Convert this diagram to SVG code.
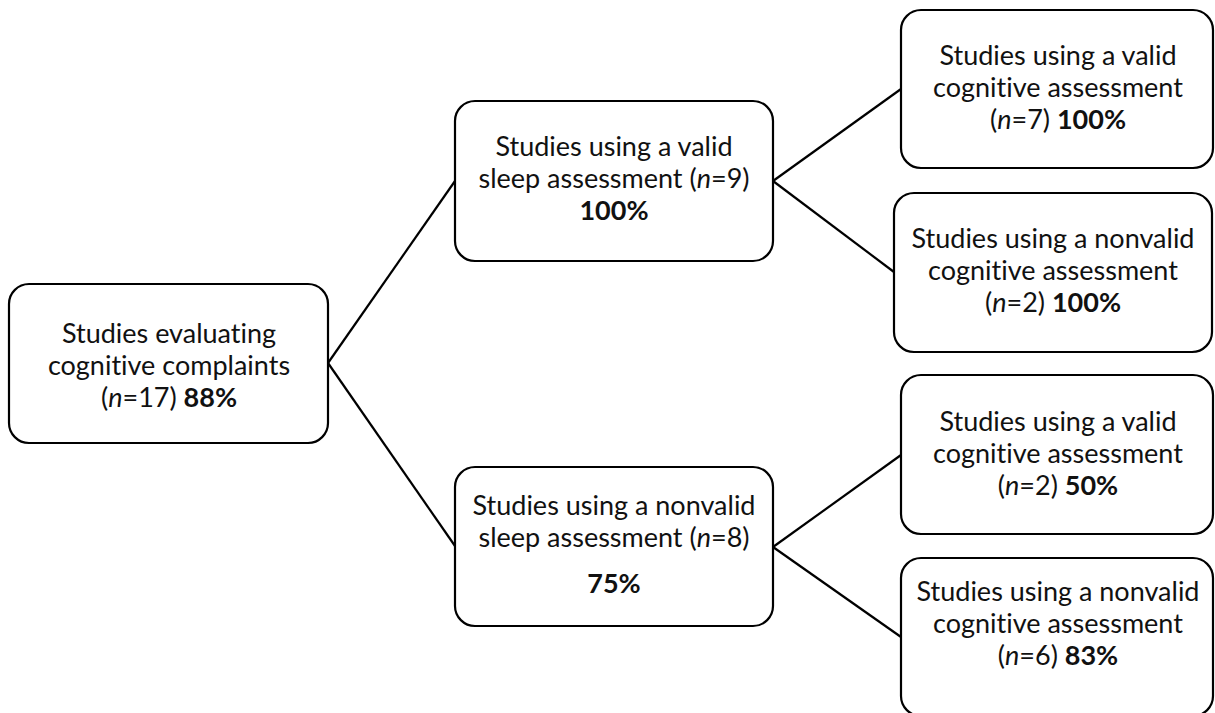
<svg xmlns="http://www.w3.org/2000/svg" width="1215" height="713" viewBox="0 0 1215 713">
<style>
.box{fill:#fff;stroke:#000;stroke-width:2.2}
.t{font-family:Lato,"Open Sans","Liberation Sans",sans-serif;font-size:27px;fill:#111;text-anchor:middle;font-variant-ligatures:none;font-feature-settings:"liga" 0}
.b{font-weight:bold}
.i{font-style:italic}
.c{stroke:#000;stroke-width:2.2;fill:none}
</style>
<rect width="1215" height="713" fill="#fff"/>
<g id="connectors">
<line class="c" x1="328" y1="363" x2="455" y2="181"/>
<line class="c" x1="328" y1="363" x2="455" y2="546"/>
<line class="c" x1="773" y1="181" x2="901" y2="89"/>
<line class="c" x1="773" y1="181" x2="894" y2="272"/>
<line class="c" x1="773" y1="547" x2="901" y2="455"/>
<line class="c" x1="773" y1="547" x2="901" y2="637"/>
</g>
<g id="root">
<rect class="box" x="9" y="284" width="319" height="159" rx="20"/>
<text class="t" x="169" y="343">Studies evaluating</text>
<text class="t" x="169" y="375">cognitive complaints</text>
<text class="t" x="169" y="407">(<tspan class="i">n</tspan>=17) <tspan class="b">88%</tspan></text>
</g>
<g id="valid-sleep">
<rect class="box" x="455" y="101" width="318" height="160" rx="20"/>
<text class="t" x="614" y="156">Studies using a valid</text>
<text class="t" x="614" y="188">sleep assessment (<tspan class="i">n</tspan>=9)</text>
<text class="t b" x="614" y="220">100%</text>
</g>
<g id="nonvalid-sleep">
<rect class="box" x="455" y="467" width="318" height="159" rx="20"/>
<text class="t" x="614" y="515">Studies using a nonvalid</text>
<text class="t" x="614" y="547">sleep assessment (<tspan class="i">n</tspan>=8)</text>
<text class="t b" x="614" y="593">75%</text>
</g>
<g id="valid-sleep-valid-cog">
<rect class="box" x="901" y="10" width="312" height="158" rx="20"/>
<text class="t" x="1058" y="65">Studies using a valid</text>
<text class="t" x="1058" y="97">cognitive assessment</text>
<text class="t" x="1058" y="129">(<tspan class="i">n</tspan>=7) <tspan class="b">100%</tspan></text>
</g>
<g id="valid-sleep-nonvalid-cog">
<rect class="box" x="894" y="193" width="318" height="159" rx="20"/>
<text class="t" x="1053" y="248">Studies using a nonvalid</text>
<text class="t" x="1053" y="280">cognitive assessment</text>
<text class="t" x="1053" y="312">(<tspan class="i">n</tspan>=2) <tspan class="b">100%</tspan></text>
</g>
<g id="nonvalid-sleep-valid-cog">
<rect class="box" x="901" y="375" width="312" height="159" rx="20"/>
<text class="t" x="1058" y="431">Studies using a valid</text>
<text class="t" x="1058" y="463">cognitive assessment</text>
<text class="t" x="1058" y="495">(<tspan class="i">n</tspan>=2) <tspan class="b">50%</tspan></text>
</g>
<g id="nonvalid-sleep-nonvalid-cog">
<rect class="box" x="901" y="558" width="312" height="158" rx="20"/>
<text class="t" x="1058" y="601">Studies using a nonvalid</text>
<text class="t" x="1058" y="633">cognitive assessment</text>
<text class="t" x="1058" y="665">(<tspan class="i">n</tspan>=6) <tspan class="b">83%</tspan></text>
</g>
</svg>
